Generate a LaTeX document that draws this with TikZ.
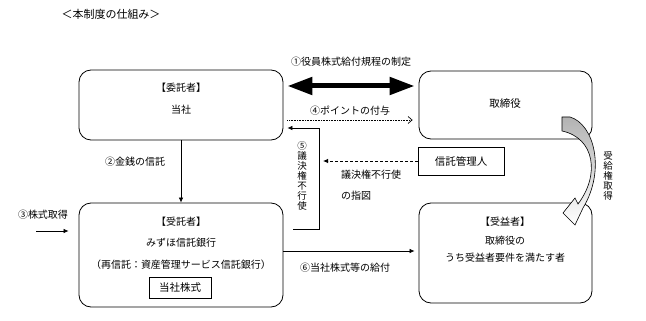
\documentclass[tikz,border=0pt]{standalone}
\usepackage{fontspec}
\setmainfont{Noto Sans CJK JP}
\usetikzlibrary{arrows.meta,calc}
\begin{document}
\begin{tikzpicture}[x=1pt,y=-1pt,
  every node/.style={font=\fontsize{10}{12}\selectfont, inner sep=0pt},
  rbox/.style={draw, line width=0.8pt, rounded corners=12pt},
  sbox/.style={draw, line width=0.8pt},
  lbl/.style={font=\fontsize{10}{12}\selectfont},
  vlbl/.style={align=center, font=\fontsize{9.5}{10}\selectfont},
  fatarrow/.style={line width=5pt, {Triangle[length=25pt,width=17pt]}-{Triangle[length=25pt,width=17pt]}},
  thin arrow/.style={line width=0.7pt, -{Latex[length=5pt,width=4.5pt]}},
  dotarrow/.style={line width=0.7pt, dash pattern=on 0.8pt off 0.8pt, -{Straight Barb[length=4pt,width=7pt]}},
  dasharrow/.style={line width=0.8pt, dash pattern=on 3pt off 2pt, -{Latex[length=5pt,width=4.5pt]}}
]
\useasboundingbox (0,0) rectangle (646,321);

% title
\node[font=\fontsize{11}{13}\selectfont] (title) at (111,14) {＜本制度の仕組み＞};

% boxes
\node[rbox, minimum width=204pt, minimum height=70pt] (A) at (181,105) {};
\node at (181,88) {【委託者】};
\node at (181,110) {当社};

\node[rbox, minimum width=173pt, minimum height=68pt] (B) at (505.5,105) {};
\node[font=\fontsize{10.5}{12}\selectfont] at (505,104) {取締役};

\node[rbox, minimum width=204pt, minimum height=104pt] (C) at (181,255) {};
\node at (181,222) {【受託者】};
\node at (181,243) {みずほ信託銀行};
\node at (181,265) {（再信託：資産管理サービス信託銀行）};
\node[sbox, minimum width=62pt, minimum height=21pt, font=\fontsize{10.5}{12}\selectfont] (F) at (180,287.5) {当社株式};

\node[rbox, minimum width=173pt, minimum height=100pt] (D) at (505.5,253) {};
\node at (505,222) {【受益者】};
\node at (505,241) {取締役の};
\node at (505,258) {うち受益者要件を満たす者};

\node[sbox, minimum width=86pt, minimum height=28pt, font=\fontsize{10.5}{12}\selectfont] (E) at (461,161) {信託管理人};

% connectors
\draw[fatarrow] ([xshift=4pt,yshift=19pt]A.east) -- ([xshift=-4pt,yshift=19pt]B.west);
\node[lbl] (l1) at (351,62) {①役員株式給付規程の制定};

\draw[dotarrow] ([xshift=4pt,yshift=-15pt]A.east) -- ([xshift=-6pt,yshift=-15pt]B.west);
\node[lbl] (l4) at (350,111) {④ポイントの付与};

\coordinate (v5) at (319,128);
\draw[thin arrow] ([xshift=10pt,yshift=26pt]C.east) -| (v5) -- ([xshift=4pt,yshift=-23pt]A.east);
\node[vlbl] (l5) at (302,176) {⑤\\議\\決\\権\\不\\行\\使};

\coordinate (d5) at (323,161);
\draw[dasharrow] (E.west) -- (d5);
\node[lbl, anchor=west] (ld1) at (341,175) {議決権不行使};
\node[lbl, anchor=west] (ld2) at (341,196) {の指図};

\draw[thin arrow] (A.south) -- (C.north);
\node[lbl] (l2) at (135,162) {②金銭の信託};

\coordinate (s3) at (36,231);
\draw[thin arrow] (s3) -- ([xshift=-10pt,yshift=24pt]C.west);
\node[lbl] (l3) at (43,215) {③株式取得};

\draw[thin arrow] ([yshift=4pt]C.east) -- ([xshift=-4pt,yshift=2pt]D.west);
\node[lbl] (l6) at (345,268) {⑥当社株式等の給付};

% curved arrow
\shade[top color=black!30, bottom color=white, draw=black, line width=0.6pt]
  (562,117) -- (570,117)
  .. controls (594,124) and (606,170) .. (583,208)
  -- (575,225) -- (563,213) -- (575,198) -- (578,204)
  .. controls (600,175) and (595,138) .. (562,131) -- cycle;
\node[vlbl] (lr) at (608,176) {受\\給\\権\\取\\得};
\end{tikzpicture}
\end{document}
